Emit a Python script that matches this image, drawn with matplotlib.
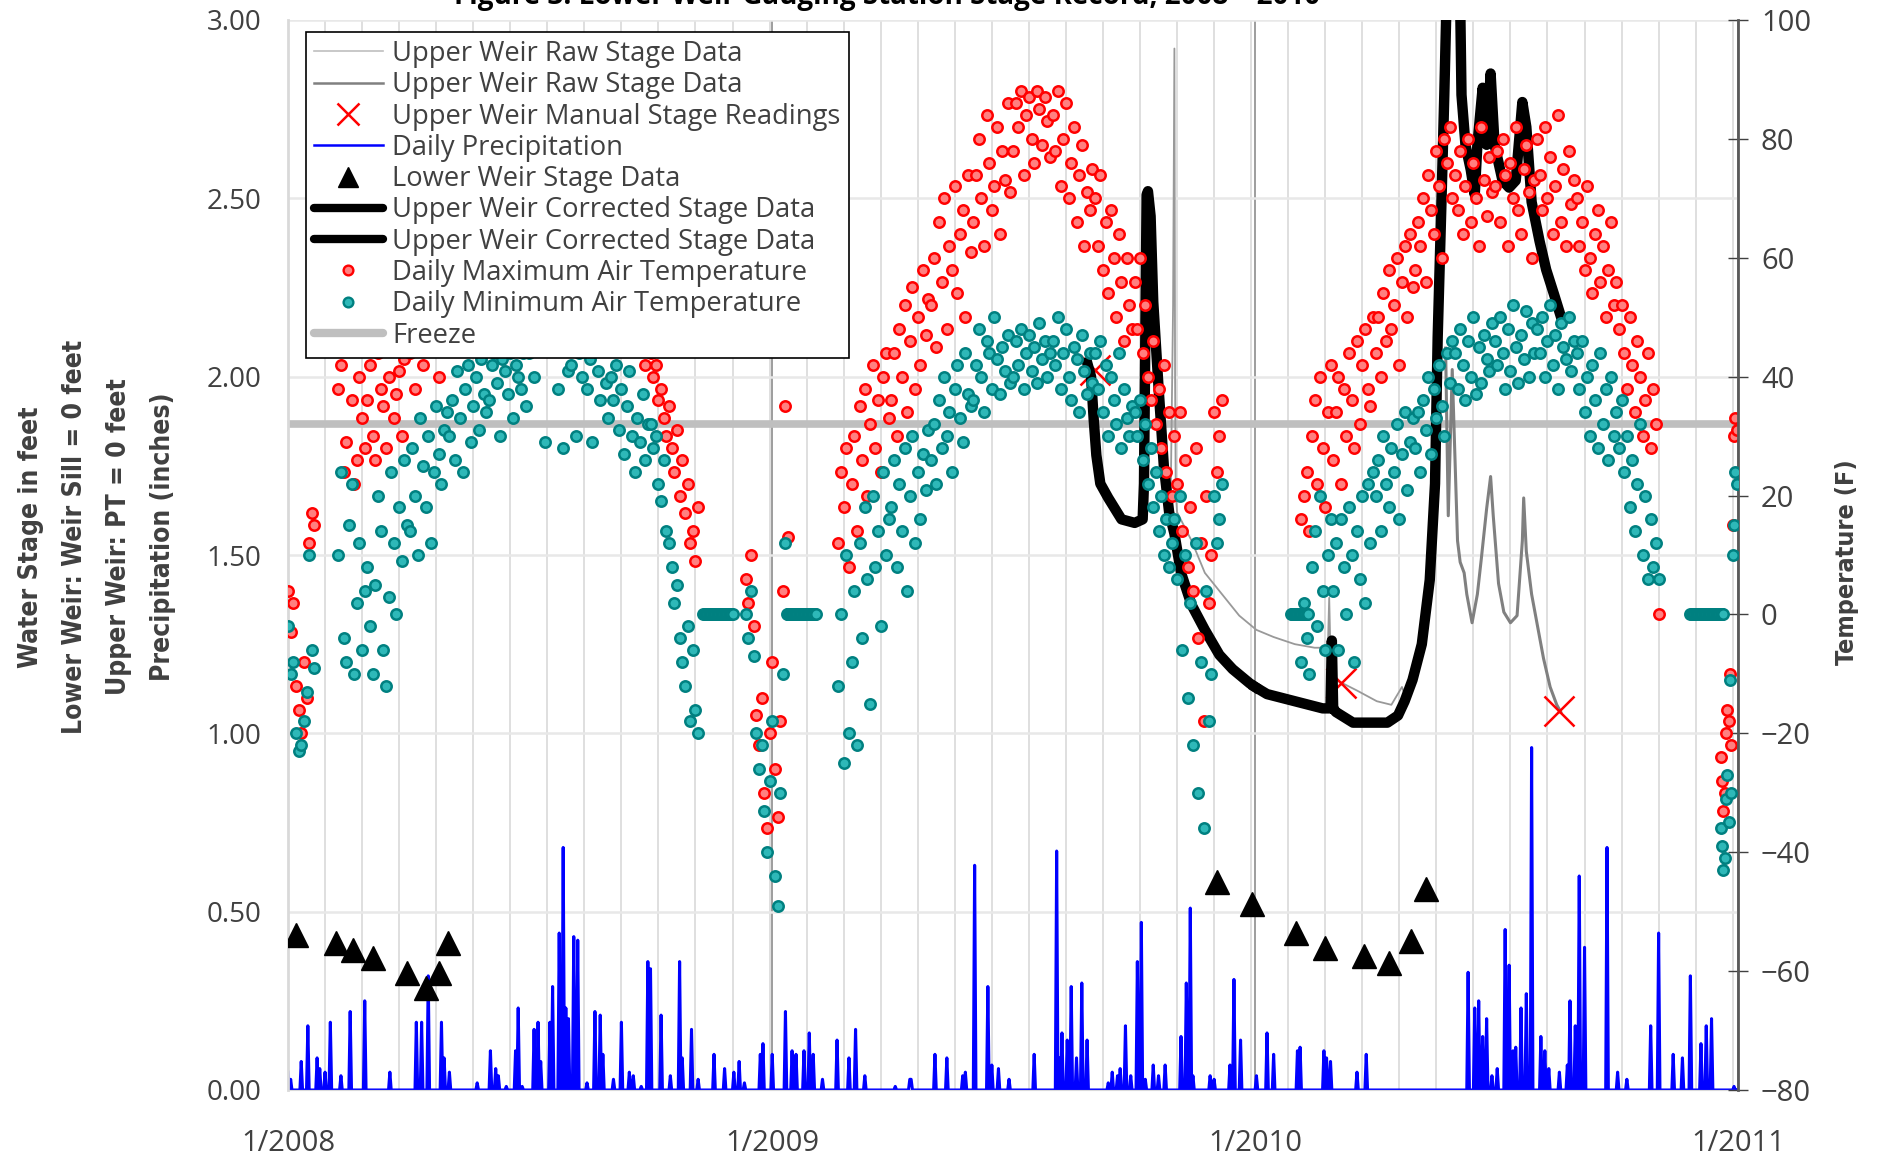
import numpy as np
import pandas as pd
import matplotlib
matplotlib.use('Agg')
import matplotlib.pyplot as plt
import matplotlib.dates as mdates
from matplotlib.lines import Line2D
from matplotlib.ticker import FixedLocator, MultipleLocator, FormatStrFormatter

plt.rcParams['font.family'] = ['Open Sans', 'DejaVu Sans']

# --- data (days are counted from 1 Jan 2008) ---
base = pd.Timestamp('2008-01-01')
x_start = '2008-01-01'
x_end = '2011-01-01'

# daily precipitation (inches), non-zero days only
precip_day = [0, 2, 10, 15, 22, 24, 28, 32, 40, 47, 58, 77, 97, 101, 106, 116, 118, 122, 143, 153, 157, 159,
              165, 172, 174, 177, 186, 189, 191, 198, 200, 205, 208, 210, 212, 216, 219, 226, 232, 236, 238,
              246, 252, 258, 261, 267, 272, 274, 282, 289, 296, 298, 305, 310, 322, 330, 337, 341, 345, 357,
              359, 366, 376, 381, 384, 390, 394, 397, 404, 415, 424, 429, 436, 459, 470, 471, 489, 498, 510,
              512, 519, 529, 532, 537, 545, 564, 581, 583, 585, 589, 592, 596, 600, 604, 620, 623, 627, 629,
              633, 637, 642, 645, 648, 654, 658, 663, 675, 679, 682, 684, 697, 700, 712, 715, 720, 732, 740,
              745, 763, 765, 783, 785, 788, 808, 815, 892, 897, 900, 903, 906, 910, 914, 920, 923, 926, 928,
              932, 936, 940, 947, 950, 953, 961, 967, 969, 973, 976, 980, 997, 1005, 1012, 1030, 1036, 1047,
              1054, 1060, 1068, 1072, 1076, 1093]
precip_in = [0.05, 0.03, 0.08, 0.18, 0.09, 0.06, 0.05, 0.19, 0.04, 0.22, 0.25, 0.05, 0.19, 0.19, 0.32, 0.19,
             0.09, 0.05, 0.02, 0.11, 0.06, 0.04, 0.01, 0.11, 0.23, 0.01, 0.17, 0.19, 0.08, 0.19, 0.29, 0.44,
             0.68, 0.23, 0.20, 0.43, 0.42, 0.02, 0.22, 0.21, 0.10, 0.03, 0.19, 0.05, 0.04, 0.01, 0.36, 0.34,
             0.21, 0.04, 0.36, 0.09, 0.17, 0.03, 0.10, 0.06, 0.05, 0.08, 0.02, 0.10, 0.13, 0.10, 0.22, 0.11,
             0.10, 0.11, 0.16, 0.10, 0.03, 0.14, 0.09, 0.17, 0.04, 0.01, 0.03, 0.03, 0.10, 0.09, 0.04, 0.05,
             0.63, 0.29, 0.07, 0.06, 0.03, 0.10, 0.67, 0.09, 0.16, 0.14, 0.29, 0.09, 0.30, 0.14, 0.02, 0.05,
             0.04, 0.06, 0.18, 0.04, 0.36, 0.47, 0.03, 0.07, 0.04, 0.07, 0.15, 0.30, 0.51, 0.04, 0.04, 0.03,
             0.07, 0.31, 0.14, 0.04, 0.16, 0.10, 0.11, 0.12, 0.11, 0.09, 0.08, 0.05, 0.10, 0.33, 0.23, 0.25,
             0.15, 0.20, 0.04, 0.06, 0.45, 0.35, 0.11, 0.12, 0.23, 0.27, 0.96, 0.15, 0.11, 0.06, 0.05, 0.07,
             0.25, 0.18, 0.60, 0.40, 0.68, 0.05, 0.03, 0.18, 0.44, 0.10, 0.09, 0.32, 0.13, 0.18, 0.20, 0.01]

# lower weir stage (ft)
lower_day = [6, 36, 49, 64, 90, 104, 114, 121, 702, 729, 762, 784, 813, 832, 849, 860]
lower_ft = [0.435, 0.413, 0.392, 0.371, 0.328, 0.286, 0.328, 0.413,
            0.584, 0.522, 0.439, 0.397, 0.375, 0.356, 0.417, 0.563]

# upper weir raw stage (ft)
raw1_day = [667, 669, 670, 670.5, 671, 672, 683, 693, 706, 719, 732, 745, 761, 776, 786, 787, 788,
            792, 808, 823, 834, 842, 845]
raw1_ft = [1.60, 2.20, 2.92, 2.00, 1.68, 1.62, 1.54, 1.45, 1.39, 1.33, 1.29, 1.27, 1.25, 1.24, 1.24, 1.38,
           1.22, 1.15, 1.12, 1.09, 1.08, 1.13, 1.10]
raw2_day = [875, 876, 877, 880, 884, 886, 889, 891, 895, 899, 902, 906, 909, 911, 915, 919, 924, 929,
            933, 934, 936, 940, 944, 949, 954, 959, 962]
raw2_ft = [2.08, 1.84, 1.61, 2.02, 1.54, 1.48, 1.45, 1.39, 1.31, 1.39, 1.49, 1.63, 1.72, 1.61, 1.42, 1.34,
           1.31, 1.33, 1.54, 1.66, 1.51, 1.39, 1.31, 1.21, 1.13, 1.08, 1.06]

# upper weir corrected stage (ft)
corr1_day = [604, 607, 609, 611, 614, 620, 630, 640, 646, 647, 649, 650, 652, 654, 658, 662, 666, 670,
             675, 683, 693, 704, 714, 727, 731]
corr1_ft = [2.04, 2.00, 1.88, 1.78, 1.70, 1.66, 1.60, 1.59, 1.60, 1.70, 2.51, 2.52, 2.45, 2.21, 1.97, 1.75,
            1.62, 1.56, 1.45, 1.36, 1.29, 1.22, 1.18, 1.14, 1.13]
corr2_day = [731, 740, 761, 782, 788, 789, 790, 792, 805, 818, 831, 839, 844, 850, 857, 863, 867, 869,
             872, 874, 876, 879, 883, 886, 887, 890, 894, 897, 899, 903, 906, 909, 912, 918, 923, 928,
             933, 936, 940, 946, 951, 957, 962]
corr2_ft = [1.13, 1.11, 1.09, 1.07, 1.07, 1.26, 1.07, 1.06, 1.03, 1.03, 1.03, 1.05, 1.09, 1.15, 1.25, 1.43,
            1.70, 2.11, 2.51, 2.79, 3.10, 3.20, 3.15, 3.05, 2.79, 2.65, 2.58, 2.51, 2.65, 2.81, 2.65, 2.85,
            2.65, 2.55, 2.53, 2.55, 2.77, 2.70, 2.49, 2.38, 2.30, 2.23, 2.17]

# manual stage readings (ft)
manual_day = [610, 796, 961]
manual_ft = [2.02, 1.14, 1.064]

# air temperature (F), every 2nd day within each recorded period
t1_start = '2008-01-01'
t1_max = [4, -3, 2, -12, -16, -20, -8, -14, 12, 17, 15]
t1_min = [-2, -10, -8, -20, -23, -22, -18, -13, 10, -6, -9]

t2_start = '2008-02-08'
t2_max = [38, 42, 24, 29, 45, 36, 22, 26, 40, 33, 28,
          36, 42, 30, 26, 44, 38, 35, 28, 40, 45, 33, 37, 41, 30, 43, 46,
          44, 50, 38, 47, 55, 42, 58, 49, 45, 60, 52, 40, 57, 62, 48,
          58, 64, 52, 70, 66, 60, 72, 56, 68, 74, 62, 65, 71, 59, 76,
          70, 78, 66, 74, 80, 72, 68, 82, 76, 71, 79, 84, 73, 77, 81,
          78, 84, 74, 82, 88, 80, 76, 85, 79, 83, 77, 86, 81, 75, 82, 79,
          80, 76, 72, 84, 78, 70, 82, 74, 77, 68, 79, 73, 75, 71, 69,
          66, 70, 62, 58, 64, 55, 60, 52, 57, 48, 54, 45, 50, 42, 47,
          44, 40, 42, 36, 38, 33, 30, 35, 28, 24, 31, 20, 26, 17, 22, 12,
          14, 9, 18]
t2_min = [10, 24, -4, -8, 15, 22, -10, 2, 12, -6, 4,
          8, -2, -10, 5, 20, 14, -6, -12, 3, 24, 12, 0, 18, 9, 26, 15,
          14, 28, 20, 10, 33, 25, 18, 30, 12, 24, 35, 27, 22, 31, 34,
          30, 36, 26, 41, 33, 24, 38, 42, 29, 35, 40, 31, 43, 37, 34,
          36, 42, 44, 39, 30, 43, 41, 37, 44, 33, 42, 40, 38, 44, 35,
          44, 48, 40, 52, 46, 50, 29, 47, 54, 45, 49, 38, 51, 28, 47, 41,
          42, 46, 30, 44, 40, 48, 38, 43, 29, 45, 41, 36, 47, 39, 33,
          40, 36, 42, 31, 38, 27, 35, 41, 30, 24, 33, 29, 37, 26, 32,
          32, 28, 30, 22, 19, 26, 14, 12, 8, 2, 5, -4, -8, -12, -2, -18,
          -6, -16, -20]

t3_start = '2008-12-12'
t3_max = [6, 2, 10, -2, -17, -22, -14, -30, -36, -20, -8, -26, -34, -18, 4, 35, 13]
t3_min = [0, -4, 4, -7, -20, -26, -22, -33, -40, -28, -18, -44, -49, -30, -10, 12, 0]

t4_start = '2009-02-20'
t4_max = [12, 24, 18, 28, 8,
          22, 30, 14, 35, 26, 38, 20, 32, 42, 28, 36, 24, 40, 44, 33,
          36, 44, 30, 48, 40, 52, 34, 46, 55, 38, 50, 42, 58, 47, 53,
          52, 60, 45, 66, 56, 70, 48, 62, 58, 72, 54, 64, 68, 50, 74, 61,
          66, 74, 80, 70, 62, 84, 76, 68, 72, 82, 64, 78, 73, 86, 71,
          78, 86, 82, 88, 74, 84, 87, 80, 76, 88, 85, 79, 87, 83, 77,
          84, 78, 88, 72, 80, 86, 70, 76, 82, 66, 74, 79, 62, 71, 68, 75,
          70, 62, 74, 58, 66, 54, 68, 60, 50, 64, 56, 46, 60, 52, 48,
          56, 48, 60, 44, 52, 40, 36, 46, 32, 38, 28, 42, 24, 34, 20,
          30, 22, 34, 14, 26, 8, 18, 4, 28, -4, 12, -18, 20, 2, 10,
          34, 24, 30, 36]
t4_min = [-12, 0, -25, 10, -20,
          -8, 4, -22, 12, -4, 18, 6, -15, 20, 8, 14, -2, 24, 10, 16,
          18, 26, 8, 22, 14, 28, 4, 20, 30, 12, 24, 16, 27, 21, 31,
          26, 32, 22, 36, 28, 40, 30, 34, 24, 38, 42, 33, 29, 44, 37, 35,
          36, 42, 48, 40, 34, 46, 44, 38, 50, 43, 37, 45, 41, 47, 39,
          40, 46, 42, 48, 38, 44, 47, 41, 45, 39, 49, 43, 46, 40, 44,
          46, 42, 50, 38, 44, 48, 40, 36, 45, 43, 34, 47, 41, 37, 44, 39,
          44, 38, 46, 34, 42, 30, 40, 36, 32, 44, 28, 38, 33, 30, 35,
          34, 30, 36, 26, 32, 22, 28, 18, 24, 14, 20, 10, 16, 8, 12,
          16, 6, 20, -6, 10, -14, 2, -22, 12, -30, -8, -36, 4, -18, -10,
          20, 12, 16, 22]

t5_start = '2010-02-05'
t5_max = [16, 20, 24, 14, 30, 36, 22, 40, 28, 18, 34, 42,
          26, 34, 40, 22, 38, 30, 44, 36, 28, 46, 32, 42, 48, 38, 35, 50,
          44, 50, 40, 54, 46, 58, 48, 52, 60, 42, 56, 62, 50, 64, 55,
          58, 66, 62, 70, 56, 74, 68, 64, 78, 72, 60, 80, 76, 82, 70,
          74, 68, 78, 64, 72, 80, 66, 76, 70, 62, 82, 73, 67, 77, 71,
          72, 78, 66, 80, 74, 62, 76, 70, 82, 68, 64, 75, 79, 71, 60, 73,
          80, 74, 68, 82, 70, 77, 64, 72, 84, 66, 75, 62, 78, 69, 73,
          70, 62, 66, 58, 72, 60, 54, 64, 68, 56, 62, 50, 58, 66, 52,
          56, 48, 52, 44, 38, 50, 42, 34, 46, 40, 30, 36, 44, 28, 38, 32,
          0]
t5_min = [-8, 2, -4, -10, 8, 14, -2, 20, 4, -6, 10, 16,
          4, 12, -6, 16, 8, 0, 18, 10, -8, 14, 6, 20, 2, 22, 12, 24,
          20, 26, 14, 30, 22, 18, 28, 24, 32, 16, 27, 34, 21, 29, 33,
          28, 34, 24, 36, 31, 40, 27, 38, 33, 42, 35, 30, 44, 39, 46,
          44, 38, 48, 42, 36, 46, 40, 50, 37, 45, 39, 47, 43, 41, 49,
          46, 42, 50, 44, 38, 48, 41, 52, 45, 39, 47, 43, 51, 40, 49, 44,
          48, 44, 50, 40, 46, 52, 42, 47, 38, 49, 45, 43, 50, 41, 46,
          44, 38, 46, 34, 40, 30, 42, 36, 28, 44, 32, 38, 26, 40, 30,
          34, 28, 36, 24, 30, 18, 26, 14, 22, 32, 10, 20, 6, 16, 8, 12,
          6]

# last days of 2010 were recorded daily
t6_start = '2010-12-19'
t6_max = [-24, -28, -33, -30, -20, -16, -18, -10, -22, 15, 30, 33, 31]
t6_min = [-36, -39, -43, -41, -31, -27, -35, -11, -30, 10, 15, 24, 22]

# periods where the minimum logger reported 0 F
zero_spans = [('2008-11-10', '2008-12-02'), ('2009-01-12', '2009-02-03'),
              ('2010-01-28', '2010-02-10'), ('2010-11-26', '2010-12-21')]

freeze_f = 32


def to_dates(days):
    return (base + pd.to_timedelta(np.asarray(days, dtype=float), unit='D')).to_numpy()


# daily precipitation series
p_dates = pd.date_range(x_start, '2010-12-31', freq='D')
p_vals = np.zeros(len(p_dates))
p_vals[precip_day] = precip_in

temp_segments = [(t1_start, '2D', t1_max, t1_min), (t2_start, '2D', t2_max, t2_min),
                 (t3_start, '2D', t3_max, t3_min), (t4_start, '2D', t4_max, t4_min),
                 (t5_start, '2D', t5_max, t5_min), (t6_start, '1D', t6_max, t6_min)]
tmax_d, tmax_v, tmin_d, tmin_v = [], [], [], []
for start, step, mx, mn in temp_segments:
    d = pd.date_range(start, periods=len(mx), freq=step)
    tmax_d.extend(d)
    tmax_v.extend(mx)
    tmin_d.extend(d)
    tmin_v.extend(mn)
for a, b in zero_spans:
    d = pd.date_range(a, b, freq='D')
    tmin_d.extend(d)
    tmin_v.extend([0] * len(d))

# --- figure ---
fig = plt.figure(figsize=(18.83, 11.6), dpi=100)
ax = fig.add_axes([288 / 1883, 70 / 1160, 1450 / 1883, 1070 / 1160])
ax2 = ax.twinx()

xmin, xmax = pd.Timestamp(x_start), pd.Timestamp(x_end)
ax.set_xlim(xmin, xmax)
ax.set_ylim(0, 3)
ax2.set_ylim(-80, 100)

# freeze line lives in temperature units but sits under the stage lines
ax.plot([xmin, xmax], [freeze_f, freeze_f], color='#BFBFBF', lw=5.5, solid_capstyle='butt',
        transform=ax2.transData, zorder=1)

ax.plot(p_dates.to_numpy(), p_vals, color='#0000FF', lw=2.2, zorder=2)
ax.plot(to_dates(raw1_day), raw1_ft, color='#999999', lw=1.3, zorder=3)
ax.plot(to_dates(raw2_day), raw2_ft, color='#808080', lw=2.2, zorder=3)
ax.plot(to_dates(manual_day), manual_ft, ls='none', marker='x', ms=21, mew=1.8, color='#FF0000', zorder=4)
ax.plot(to_dates(corr1_day), corr1_ft, color='black', lw=7.5, solid_joinstyle='round', zorder=5)
ax.plot(to_dates(corr2_day), corr2_ft, color='black', lw=7.5, solid_joinstyle='round', zorder=5)
ax.plot(to_dates(lower_day), lower_ft, ls='none', marker='^', ms=17, color='black', zorder=6)

ax2.plot(np.array(tmax_d, dtype='datetime64[ns]'), tmax_v, ls='none', marker='o', ms=7.5, mew=1.8,
         mec='#FF0000', mfc='#FF8080', zorder=2)
ax2.plot(np.array(tmin_d, dtype='datetime64[ns]'), tmin_v, ls='none', marker='o', ms=7.5, mew=1.8,
         mec='#008080', mfc='#2EB8B8', zorder=3)

# axes styling
ax.xaxis.set_major_locator(mdates.YearLocator())
ax.xaxis.set_major_formatter(mdates.DateFormatter('%-m/%Y'))
minor = pd.date_range(x_start, x_end, freq='28D')
ax.xaxis.set_minor_locator(FixedLocator(mdates.date2num(minor.to_pydatetime())))
ax.yaxis.set_major_locator(MultipleLocator(0.5))
ax.yaxis.set_major_formatter(FormatStrFormatter('%.2f'))
ax.grid(which='minor', axis='x', color='#D9D9D9', lw=1.2)
ax.grid(which='major', axis='x', color='#8C8C8C', lw=1.2)
ax.grid(which='major', axis='y', color='#E8E8E8', lw=1.8)
ax.set_axisbelow(True)
ax.tick_params(axis='x', which='both', length=0, pad=28, labelsize=21, labelcolor='#404040')
ax.tick_params(axis='y', length=0, pad=19, labelsize=20, labelcolor='#404040')
for s in ['top', 'right']:
    ax.spines[s].set_visible(False)
ax.spines['left'].set_color('#D9D9D9')
ax.spines['left'].set_linewidth(2)
ax.spines['bottom'].set_color('#D9D9D9')

ax2.yaxis.set_major_locator(MultipleLocator(20))
ax2.tick_params(axis='y', direction='inout', length=15, width=1, color='#404040', pad=9,
                labelsize=21, labelcolor='#404040')
for s in ['top', 'left', 'bottom']:
    ax2.spines[s].set_visible(False)
ax2.spines['right'].set_color('#595959')
ax2.spines['right'].set_linewidth(2)

# legend
handles = [
    Line2D([], [], color='#BFBFBF', lw=1.2),
    Line2D([], [], color='#808080', lw=1.8),
    Line2D([], [], ls='none', marker='x', ms=16, mew=1.8, color='#FF0000'),
    Line2D([], [], color='#0000FF', lw=1.8),
    Line2D([], [], ls='none', marker='^', ms=14, color='black'),
    Line2D([], [], color='black', lw=6, solid_capstyle='round'),
    Line2D([], [], color='black', lw=6, solid_capstyle='round'),
    Line2D([], [], ls='none', marker='o', ms=7, mew=1.7, mec='#FF0000', mfc='#FF8080'),
    Line2D([], [], ls='none', marker='o', ms=7, mew=1.7, mec='#008080', mfc='#2EB8B8'),
    Line2D([], [], color='#BFBFBF', lw=6, solid_capstyle='round'),
]
labels = ['Upper Weir Raw Stage Data', 'Upper Weir Raw Stage Data', 'Upper Weir Manual Stage Readings',
          'Daily Precipitation', 'Lower Weir Stage Data', 'Upper Weir Corrected Stage Data',
          'Upper Weir Corrected Stage Data', 'Daily Maximum Air Temperature',
          'Daily Minimum Air Temperature', 'Freeze']
leg = ax2.legend(handles, labels, loc='upper left', bbox_to_anchor=(0.0124, 0.989), borderaxespad=0,
                 fontsize=19.7, labelspacing=0.12, handlelength=2.5, handletextpad=0.35, borderpad=0.3,
                 fancybox=False, framealpha=1, edgecolor='black', labelcolor='#404040')
leg.get_frame().set_linewidth(1.2)

# axis titles and chart title
narrow = ['DejaVu Sans Condensed', 'Liberation Sans Narrow', 'DejaVu Sans']
fig.text(97 / 1883, 1 - 537 / 1160,
         'Water Stage in feet\nLower Weir: Weir Sill = 0 feet\nUpper Weir: PT = 0 feet\nPrecipitation (inches)',
         rotation=90, ha='center', va='center', multialignment='center', fontsize=19, fontweight='bold',
         fontstretch='condensed', color='#404040', family=narrow, linespacing=1.9)
fig.text(1847 / 1883, 1 - 562 / 1160, 'Temperature (F)', rotation=90, ha='center', va='center',
         fontsize=18, fontweight='bold', fontstretch='condensed', color='#404040', family=narrow)
fig.text(887 / 1883, 1 - 4 / 1160, 'Figure 3: Lower Weir Gauging Station Stage Record, 2008 \u2013 2010',
         ha='center', va='baseline', fontsize=20, fontweight='bold', color='black')

fig.savefig('out.png', dpi=100)
